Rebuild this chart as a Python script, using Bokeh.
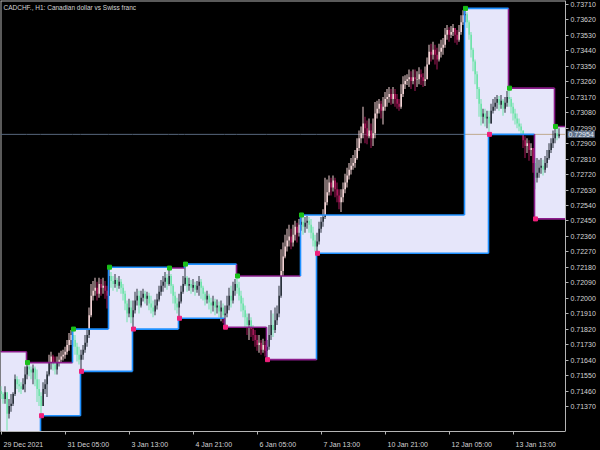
from bokeh.plotting import figure
from bokeh.models import Range1d, FixedTicker, PrintfTickFormatter, Label, LinearAxis
from bokeh.embed import file_html
from bokeh.resources import INLINE

# ---------------- data ----------------
symbol_title = "CADCHF., H1:  Canadian dollar vs Swiss franc"
first_open = 0.71460
closes = [
    0.71443, 0.71414, 0.71454, 0.71328, 0.71374, 0.71386, 0.71443, 0.71529, 0.71500, 0.71489,
    0.71472, 0.71500, 0.71557, 0.71603, 0.71586, 0.71569, 0.71592, 0.71529, 0.71472, 0.71432,
    0.71374, 0.71472, 0.71500, 0.71557, 0.71626, 0.71661, 0.71615, 0.71586, 0.71626, 0.71643,
    0.71661, 0.71672, 0.71689, 0.71729, 0.71758, 0.71786, 0.71758, 0.71718, 0.71672, 0.71643,
    0.71672, 0.71701, 0.71741, 0.71786, 0.71901, 0.72015, 0.72044, 0.72061, 0.72027, 0.72084,
    0.72061, 0.72073, 0.72044, 0.72015, 0.72130, 0.72101, 0.72084, 0.72107, 0.72073, 0.72096,
    0.72061, 0.72027, 0.71970, 0.71912, 0.71947, 0.71890, 0.71930, 0.71987, 0.72015, 0.71958,
    0.72004, 0.72027, 0.71998, 0.72015, 0.71970, 0.71947, 0.71924, 0.71958, 0.71993, 0.72038,
    0.72073, 0.72096, 0.72119, 0.72084, 0.72130, 0.72073, 0.72015, 0.71970, 0.71947, 0.71981,
    0.72038, 0.72084, 0.72119, 0.72073, 0.72084, 0.72061, 0.72078, 0.72050, 0.72073, 0.72096,
    0.72061, 0.72027, 0.71993, 0.72015, 0.71975, 0.71958, 0.71981, 0.71947, 0.71958, 0.71924,
    0.71947, 0.71901, 0.71912, 0.71958, 0.72015, 0.71987, 0.72044, 0.72084, 0.72061, 0.72015,
    0.71970, 0.71930, 0.71890, 0.71844, 0.71872, 0.71821, 0.71786, 0.71758, 0.71729, 0.71741,
    0.71701, 0.71729, 0.71695, 0.71718, 0.71786, 0.71844, 0.71815, 0.71872, 0.71912, 0.72015,
    0.72159, 0.72244, 0.72302, 0.72336, 0.72359, 0.72325, 0.72370, 0.72416, 0.72382, 0.72428,
    0.72445, 0.72416, 0.72439, 0.72451, 0.72428, 0.72382, 0.72336, 0.72302, 0.72330, 0.72405,
    0.72445, 0.72473, 0.72559, 0.72617, 0.72674, 0.72645, 0.72685, 0.72634, 0.72599, 0.72559,
    0.72588, 0.72634, 0.72674, 0.72714, 0.72748, 0.72771, 0.72788, 0.72817, 0.72874, 0.72931,
    0.72960, 0.73017, 0.72989, 0.72943, 0.72977, 0.72931, 0.72960, 0.73075, 0.73103, 0.73132,
    0.73092, 0.73115, 0.73160, 0.73172, 0.73189, 0.73160, 0.73189, 0.73160, 0.73132, 0.73115,
    0.73189, 0.73246, 0.73264, 0.73275, 0.73286, 0.73264, 0.73286, 0.73275, 0.73275, 0.73304,
    0.73286, 0.73264, 0.73275, 0.73361, 0.73435, 0.73418, 0.73447, 0.73418, 0.73390, 0.73435,
    0.73458, 0.73475, 0.73533, 0.73561, 0.73533, 0.73550, 0.73573, 0.73533, 0.73504, 0.73550,
    0.73607, 0.73647, 0.73653, 0.73607, 0.73533, 0.73447, 0.73378, 0.73304, 0.73218, 0.73132,
    0.73057, 0.73075, 0.73046, 0.73057, 0.73017, 0.73092, 0.73115, 0.73138, 0.73160, 0.73126,
    0.73149, 0.73103, 0.73138, 0.73172, 0.73160, 0.73115, 0.73075, 0.73046, 0.73017, 0.73000,
    0.72977, 0.72920, 0.72886, 0.72903, 0.72863, 0.72874, 0.72788, 0.72702, 0.72731, 0.72760,
    0.72771, 0.72748, 0.72788, 0.72817, 0.72863, 0.72903, 0.72931, 0.72960, 0.72943, 0.72954,
]
highs = [
    0.71489, 0.71454, 0.71489, 0.71454, 0.71414, 0.71443, 0.71454, 0.71557, 0.71546, 0.71529,
    0.71512, 0.71535, 0.71603, 0.71626, 0.71615, 0.71603, 0.71615, 0.71603, 0.71586, 0.71529,
    0.71454, 0.71512, 0.71529, 0.71575, 0.71672, 0.71689, 0.71672, 0.71661, 0.71661, 0.71683,
    0.71695, 0.71701, 0.71718, 0.71758, 0.71798, 0.71815, 0.71821, 0.71786, 0.71741, 0.71718,
    0.71701, 0.71729, 0.71786, 0.71821, 0.71947, 0.72084, 0.72101, 0.72119, 0.72096, 0.72119,
    0.72113, 0.72119, 0.72101, 0.72073, 0.72181, 0.72153, 0.72130, 0.72141, 0.72119, 0.72130,
    0.72113, 0.72084, 0.72044, 0.71987, 0.71998, 0.71987, 0.71987, 0.72038, 0.72056, 0.72044,
    0.72044, 0.72056, 0.72044, 0.72038, 0.72033, 0.72015, 0.71987, 0.71993, 0.72027, 0.72073,
    0.72107, 0.72130, 0.72153, 0.72141, 0.72176, 0.72141, 0.72084, 0.72038, 0.72004, 0.72027,
    0.72073, 0.72130, 0.72199, 0.72130, 0.72119, 0.72107, 0.72113, 0.72096, 0.72101, 0.72130,
    0.72113, 0.72073, 0.72038, 0.72044, 0.72027, 0.72004, 0.72015, 0.71998, 0.71993, 0.71981,
    0.71987, 0.71970, 0.71958, 0.72015, 0.72061, 0.72073, 0.72096, 0.72113, 0.72130, 0.72096,
    0.72044, 0.72004, 0.71958, 0.71912, 0.71912, 0.71890, 0.71844, 0.71815, 0.71786, 0.71786,
    0.71758, 0.71764, 0.71752, 0.71758, 0.71844, 0.71930, 0.71912, 0.71947, 0.71958, 0.72073,
    0.72285, 0.72325, 0.72370, 0.72405, 0.72428, 0.72405, 0.72428, 0.72451, 0.72439, 0.72462,
    0.72485, 0.72473, 0.72473, 0.72479, 0.72473, 0.72462, 0.72416, 0.72370, 0.72382, 0.72445,
    0.72473, 0.72519, 0.72702, 0.72691, 0.72714, 0.72702, 0.72714, 0.72702, 0.72674, 0.72634,
    0.72634, 0.72674, 0.72725, 0.72760, 0.72788, 0.72817, 0.72834, 0.72863, 0.72931, 0.72977,
    0.73000, 0.73115, 0.73057, 0.73035, 0.73046, 0.73017, 0.73046, 0.73143, 0.73149, 0.73160,
    0.73149, 0.73172, 0.73201, 0.73218, 0.73229, 0.73218, 0.73229, 0.73218, 0.73189, 0.73160,
    0.73246, 0.73292, 0.73298, 0.73304, 0.73332, 0.73321, 0.73332, 0.73332, 0.73321, 0.73344,
    0.73332, 0.73309, 0.73349, 0.73401, 0.73475, 0.73481, 0.73493, 0.73475, 0.73458, 0.73481,
    0.73504, 0.73515, 0.73573, 0.73590, 0.73578, 0.73584, 0.73596, 0.73573, 0.73561, 0.73590,
    0.73647, 0.73676, 0.73687, 0.73664, 0.73618, 0.73550, 0.73458, 0.73390, 0.73321, 0.73229,
    0.73160, 0.73103, 0.73103, 0.73092, 0.73092, 0.73132, 0.73160, 0.73172, 0.73183, 0.73178,
    0.73183, 0.73160, 0.73172, 0.73206, 0.73223, 0.73172, 0.73138, 0.73103, 0.73075, 0.73046,
    0.73017, 0.72977, 0.72943, 0.72931, 0.72920, 0.72903, 0.72874, 0.72817, 0.72817, 0.72806,
    0.72817, 0.72806, 0.72828, 0.72863, 0.72903, 0.72931, 0.72977, 0.73000, 0.72989, 0.72989,
]
lows = [
    0.71414, 0.71386, 0.71386, 0.71231, 0.71300, 0.71340, 0.71374, 0.71432, 0.71472, 0.71454,
    0.71443, 0.71466, 0.71454, 0.71529, 0.71546, 0.71529, 0.71500, 0.71489, 0.71397, 0.71374,
    0.71317, 0.71386, 0.71443, 0.71426, 0.71546, 0.71586, 0.71580, 0.71557, 0.71557, 0.71603,
    0.71626, 0.71638, 0.71649, 0.71672, 0.71695, 0.71729, 0.71718, 0.71672, 0.71632, 0.71615,
    0.71575, 0.71643, 0.71683, 0.71718, 0.71769, 0.71890, 0.71987, 0.72015, 0.71987, 0.72004,
    0.72015, 0.72027, 0.71998, 0.71941, 0.72015, 0.72061, 0.72044, 0.72061, 0.72038, 0.72056,
    0.72027, 0.71987, 0.71930, 0.71861, 0.71890, 0.71855, 0.71821, 0.71912, 0.71958, 0.71912,
    0.71947, 0.71981, 0.71970, 0.71958, 0.71930, 0.71912, 0.71890, 0.71901, 0.71935, 0.71981,
    0.72015, 0.72038, 0.72061, 0.72050, 0.72073, 0.72027, 0.71970, 0.71930, 0.71912, 0.71884,
    0.71970, 0.72027, 0.72073, 0.72038, 0.72044, 0.72027, 0.72038, 0.72015, 0.72033, 0.72015,
    0.71998, 0.71987, 0.71958, 0.71970, 0.71935, 0.71912, 0.71924, 0.71901, 0.71912, 0.71890,
    0.71867, 0.71855, 0.71832, 0.71890, 0.71930, 0.71947, 0.71970, 0.72015, 0.72027, 0.71987,
    0.71924, 0.71890, 0.71832, 0.71786, 0.71758, 0.71775, 0.71752, 0.71718, 0.71695, 0.71683,
    0.71672, 0.71683, 0.71661, 0.71643, 0.71701, 0.71758, 0.71775, 0.71798, 0.71844, 0.71890,
    0.72004, 0.72130, 0.72233, 0.72273, 0.72302, 0.72285, 0.72302, 0.72336, 0.72325, 0.72359,
    0.72393, 0.72370, 0.72382, 0.72405, 0.72382, 0.72348, 0.72302, 0.72273, 0.72262, 0.72313,
    0.72382, 0.72416, 0.72462, 0.72542, 0.72599, 0.72599, 0.72622, 0.72588, 0.72559, 0.72519,
    0.72502, 0.72559, 0.72611, 0.72645, 0.72691, 0.72720, 0.72748, 0.72760, 0.72806, 0.72857,
    0.72903, 0.72931, 0.72903, 0.72897, 0.72931, 0.72874, 0.72886, 0.72931, 0.73046, 0.73075,
    0.73046, 0.73012, 0.73092, 0.73115, 0.73138, 0.73126, 0.73132, 0.73115, 0.73103, 0.73092,
    0.73103, 0.73172, 0.73218, 0.73241, 0.73229, 0.73218, 0.73246, 0.73206, 0.73229, 0.73246,
    0.73241, 0.73229, 0.73235, 0.73275, 0.73367, 0.73378, 0.73390, 0.73361, 0.73332, 0.73378,
    0.73401, 0.73418, 0.73458, 0.73504, 0.73493, 0.73515, 0.73527, 0.73487, 0.73475, 0.73493,
    0.73533, 0.73590, 0.73607, 0.73573, 0.73504, 0.73401, 0.73321, 0.73246, 0.73160, 0.73057,
    0.73006, 0.73017, 0.73000, 0.72989, 0.72954, 0.73017, 0.73075, 0.73092, 0.73103, 0.73092,
    0.73103, 0.73063, 0.73080, 0.73115, 0.73115, 0.73075, 0.73035, 0.73012, 0.72989, 0.72972,
    0.72949, 0.72874, 0.72817, 0.72846, 0.72800, 0.72828, 0.72731, 0.72634, 0.72674, 0.72702,
    0.72725, 0.72714, 0.72731, 0.72760, 0.72806, 0.72846, 0.72874, 0.72903, 0.72920, 0.72931,
]

# box channel: bar index where each upper / lower level starts and its price
upper_bar = [0, 13, 36, 54, 84, 92, 118, 150, 232, 254, 277]
upper_level = [0.71689, 0.71626, 0.71821, 0.72181, 0.72176, 0.72199, 0.72130, 0.72485, 0.73687, 0.73223, 0.73000]
lower_bar = [0, 20, 40, 66, 89, 112, 133, 158, 244, 267]
lower_level = [0.71180, 0.71317, 0.71575, 0.71821, 0.71884, 0.71832, 0.71643, 0.72262, 0.72954, 0.72462]

date_tick_bars = [0, 32, 64, 96, 128, 160, 192, 224, 256]
date_tick_labels = ["29 Dec 2021", "31 Dec 05:00", "3 Jan 13:00", "4 Jan 21:00", "6 Jan 05:00",
                    "7 Jan 13:00", "10 Jan 21:00", "12 Jan 05:00", "13 Jan 13:00"]
price_ticks = [0.71370, 0.71460, 0.71550, 0.71640, 0.71730, 0.71820, 0.71910, 0.72000, 0.72090,
               0.72180, 0.72270, 0.72360, 0.72450, 0.72540, 0.72630, 0.72720, 0.72810, 0.72900,
               0.72990, 0.73080, 0.73170, 0.73260, 0.73350, 0.73440, 0.73530, 0.73620, 0.73710]

# ---------------- styling ----------------
FONT = "Liberation Sans"
FS = 7
FG = "#d4d4d4"
AXIS = "#b4b4b4"
LAV = "#E6E6FA"
BLUE = "#1E90FF"
PURPLE = "#8B1C8B"
BULL_OUT, BEAR_OUT = "#F2D2D4", "#A8185A"
BULL_IN, BEAR_IN = "#2A323C", "#6FE3AA"
PRICE_OUT, PRICE_IN = "#56677c", "#bfa88e"

W, H = 600, 450
BOTTOM_PANEL = 12
X0, X1 = -0.5, 282.0            # data span of the chart area (565 px)
PX_PER_BAR = 565 / (X1 - X0)
XF = X0 + W / PX_PER_BAR        # frame reaches the right edge; price axis sits at X1
Y0, Y1 = 0.71225, 0.73733

p = figure(width=W, height=H, x_range=Range1d(X0, XF), y_range=Range1d(Y0, Y1),
           output_backend="svg", toolbar_location=None, y_axis_location="right",
           background_fill_color="black", border_fill_color="black",
           min_border_left=0, min_border_top=0, min_border_right=0,
           min_border_bottom=BOTTOM_PANEL)
p.xgrid.visible = False
p.ygrid.visible = False
p.outline_line_color = None

# bottom axis 1: tick marks only
xa = p.xaxis[0]
xa.ticker = FixedTicker(ticks=date_tick_bars)
xa.major_label_overrides = {b: "" for b in date_tick_bars}
xa.major_label_text_font_size = "1px"
xa.major_label_standoff = 0
xa.bounds = (X0, X1)

# bottom axis 2: labels that start at their tick (MT4 style)
ARIAL_W = {" ": 0.278, ":": 0.278, "D": 0.722, "J": 0.5, "c": 0.5}


def text_w(s):
    return sum(ARIAL_W.get(ch, 0.556) for ch in s) * FS


label_pos = [round(b + (text_w(t) / 2 + 2) / PX_PER_BAR, 3) for b, t in zip(date_tick_bars, date_tick_labels)]
lab_axis = LinearAxis(ticker=FixedTicker(ticks=label_pos),
                      major_label_overrides={pos: t for pos, t in zip(label_pos, date_tick_labels)})
lab_axis.axis_line_color = None
lab_axis.major_tick_line_color = None
lab_axis.minor_tick_line_color = None
lab_axis.major_label_standoff = 0
lab_axis.major_label_text_color = FG
lab_axis.major_label_text_font = FONT
lab_axis.major_label_text_font_size = f"{FS}px"
p.add_layout(lab_axis, "below")

ya = p.yaxis[0]
ya.ticker = FixedTicker(ticks=price_ticks)
ya.formatter = PrintfTickFormatter(format="%.5f")
ya.fixed_location = X1
ya.major_label_text_color = FG
ya.major_label_text_font = FONT
ya.major_label_text_font_size = f"{FS}px"
ya.major_label_standoff = 2
for ax in (xa, ya):
    ax.axis_line_color = AXIS
    ax.major_tick_line_color = AXIS
    ax.major_tick_out = 3
    ax.major_tick_in = 0
    ax.minor_tick_line_color = None

# frame top / left border
p.segment(x0=[X0, X0], y0=[Y1, Y0], x1=[X1, X0], y1=[Y1, Y1], line_color=AXIS, line_width=2)


def level_at(starts, levels, x):
    v = levels[0]
    for s, lv in zip(starts, levels):
        if s - 0.5 <= x:
            v = lv
    return v


# ---- lavender channel area ----
def step_path(starts, levels):
    xs, ys = [], []
    for i, (s, lv) in enumerate(zip(starts, levels)):
        x0 = max(X0, s - 0.5)
        x1 = starts[i + 1] - 0.5 if i + 1 < len(starts) else X1
        xs += [x0, x1]
        ys += [lv, lv]
    return xs, ys

tx, ty = step_path(upper_bar, upper_level)
bx, by = step_path(lower_bar, lower_level)
p.patch(tx + bx[::-1], ty + by[::-1], fill_color=LAV, line_color=None)

# ---- current price line ----
n = len(closes)
price = closes[-1]
edges = sorted(set([X0, X1] + [max(X0, s - 0.5) for s in upper_bar + lower_bar]))
pl = {PRICE_OUT: ([], []), PRICE_IN: ([], [])}
for xa_, xb_ in zip(edges[:-1], edges[1:]):
    mid = (xa_ + xb_) / 2
    inside = level_at(lower_bar, lower_level, mid) <= price <= level_at(upper_bar, upper_level, mid)
    col = PRICE_IN if inside else PRICE_OUT
    pl[col][0].append(xa_)
    pl[col][1].append(xb_)
for col, (x0s, x1s) in pl.items():
    if x0s:
        p.segment(x0=x0s, y0=[price] * len(x0s), x1=x1s, y1=[price] * len(x0s),
                  line_color=col, line_width=1)

# ---- candles (colours inverted where they cross the lavender area) ----
opens = [first_open] + closes[:-1]


def split(a, b, lo_lim, hi_lim):
    parts = []
    if a < lo_lim:
        parts.append((a, min(b, lo_lim), False))
    ia, ib = max(a, lo_lim), min(b, hi_lim)
    if ib > ia:
        parts.append((ia, ib, True))
    if b > hi_lim:
        parts.append((max(a, hi_lim), b, False))
    return parts


wick = {}
body = {}
for i in range(n):
    o, c = opens[i], closes[i]
    hi = max(highs[i], o, c)
    lo = min(lows[i], o, c)
    bull = c >= o
    U = level_at(upper_bar, upper_level, i)
    L = level_at(lower_bar, lower_level, i)
    for a, b, inside in split(lo, hi, L, U):
        col = (BULL_IN if bull else BEAR_IN) if inside else (BULL_OUT if bull else BEAR_OUT)
        wick.setdefault(col, [[], [], []])
        wick[col][0].append(i); wick[col][1].append(a); wick[col][2].append(b)
    bl, bh = min(o, c), max(o, c)
    if bh - bl < 0.00002:
        bl, bh = bl - 0.00001, bh + 0.00001
    for a, b, inside in split(bl, bh, L, U):
        col = (BULL_IN if bull else BEAR_IN) if inside else (BULL_OUT if bull else BEAR_OUT)
        body.setdefault(col, [[], [], []])
        body[col][0].append(i); body[col][1].append(a); body[col][2].append(b)

# one-pixel wick column, body slightly wider
for col, (xs, y0s, y1s) in wick.items():
    p.quad(left=[x - 0.5 for x in xs], right=list(xs), bottom=y0s, top=y1s,
           fill_color=col, line_color=None)
for col, (xs, y0s, y1s) in body.items():
    p.quad(left=[x - 0.5 for x in xs], right=[x + 0.25 for x in xs], bottom=y0s, top=y1s,
           fill_color=col, line_color=None)

# ---- channel outlines ----
def outline(starts, levels, first_col, rising_col, falling_col):
    segs = {}
    for i, (s, lv) in enumerate(zip(starts, levels)):
        x0 = max(X0, s - 0.5)
        x1 = starts[i + 1] - 0.5 if i + 1 < len(starts) else X1
        if i == 0:
            col = first_col
        else:
            col = rising_col if lv > levels[i - 1] else falling_col
        d = segs.setdefault(col, [[], [], [], []])
        d[0].append(x0); d[1].append(lv); d[2].append(x1); d[3].append(lv)
        if i > 0:
            d[0].append(x0); d[1].append(levels[i - 1]); d[2].append(x0); d[3].append(lv)
    for col, (a, b, c_, d_) in segs.items():
        p.segment(x0=a, y0=b, x1=c_, y1=d_, line_color=col, line_width=1.6)

outline(upper_bar, upper_level, PURPLE, BLUE, PURPLE)
outline(lower_bar, lower_level, BLUE, BLUE, PURPLE)

p.scatter(upper_bar[1:], upper_level[1:], marker="square", size=4, color="#19C019")
p.scatter(lower_bar[1:], lower_level[1:], marker="square", size=4, color="#F0207C")

# ---- texts ----
p.add_layout(Label(x=X0, y=Y1, x_offset=3, y_offset=-3, text=symbol_title,
                   text_baseline="top", text_font=FONT, text_font_size="6.5px", text_color=FG))
tag = Label(x=X1, y=price, x_offset=2, text=f"{price:.5f}", text_baseline="middle",
            text_font=FONT, text_font_size=f"{FS}px", text_color="#e8eef5",
            background_fill_color="#5f7088")
try:
    tag.padding = 1
except Exception:
    pass
p.add_layout(tag)

html = file_html(p, INLINE)
html = html.replace("<head>", "<head><style>body{background:#000000;}</style>", 1)
open("out.html", "w").write(html)
